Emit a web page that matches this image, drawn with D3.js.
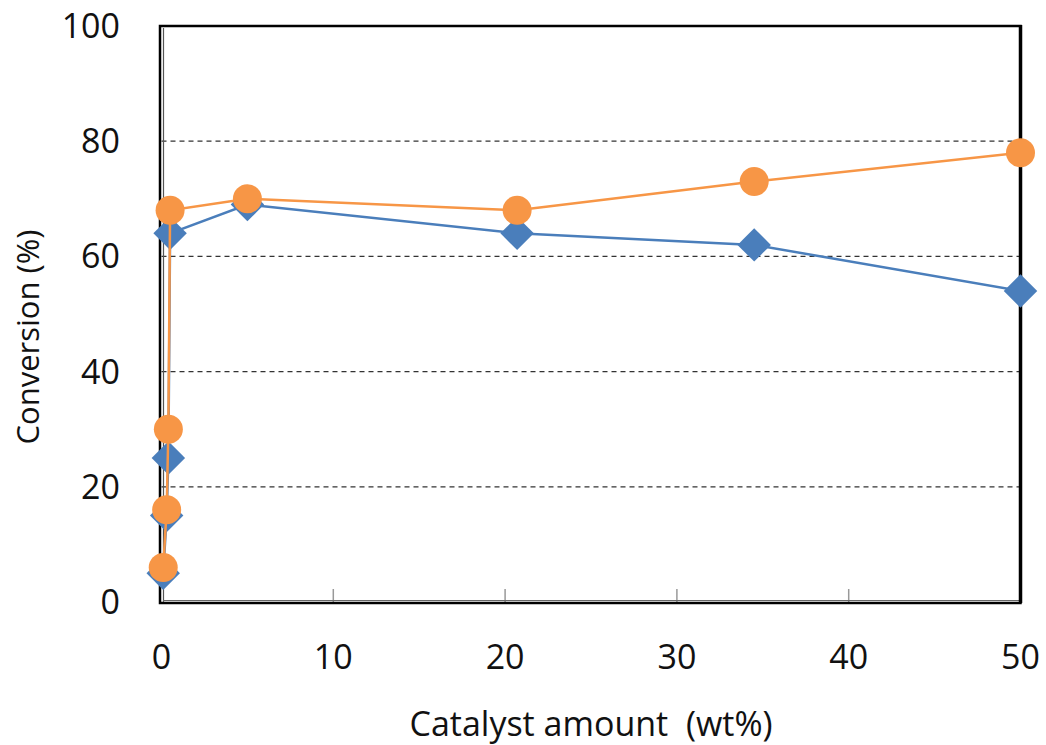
<!DOCTYPE html>
<html><head><meta charset="utf-8">
<script src="https://cdn.jsdelivr.net/npm/d3@7"></script>
<style>body{margin:0;background:#fff}svg{display:block}</style>
</head><body>
<svg id="c" width="1046" height="745"></svg>
<script>
const xValues = [0.1, 0.3, 0.4, 0.5, 5, 20.7, 34.5, 50];
const blueValues = [5, 15, 25, 64, 69, 64, 62, 54];
const orangeValues = [6, 16, 30, 68, 70, 68, 73, 78];
const xTicks = [0, 10, 20, 30, 40, 50];
const yTicks = [0, 20, 40, 60, 80, 100];
const xTitle = "Catalyst amount  (wt%)";
const yTitle = "Conversion (%)";

const svg = d3.select("#c");
const L = 161.5, R = 1020.5, T = 26, B = 602;
const x = d3.scaleLinear().domain([0, 50]).range([L, R]);
const y = d3.scaleLinear().domain([0, 100]).range([B, T]);
const font = "'Open Sans', 'Noto Sans', sans-serif";

// gridlines
svg.append("g").selectAll("line").data(yTicks.filter(d => d > 0 && d < 100)).join("line")
  .attr("x1", L).attr("x2", R).attr("y1", d => y(d)).attr("y2", d => y(d))
  .attr("stroke", "#333").attr("stroke-width", 1.2).attr("stroke-dasharray", "5,4");

// x ticks inward
svg.append("g").selectAll("line").data(xTicks.filter(d => d > 0 && d < 50)).join("line")
  .attr("x1", d => x(d)).attr("x2", d => x(d)).attr("y1", B).attr("y2", B - 13)
  .attr("stroke", "#999").attr("stroke-width", 1.5);

// frame
svg.append("rect").attr("x", 160).attr("y", T).attr("width", R - 160).attr("height", B - T + 1)
  .attr("fill", "none").attr("stroke", "#000").attr("stroke-width", 2.5);
svg.append("line").attr("x1", 163.5).attr("x2", 163.5).attr("y1", T + 2).attr("y2", B)
  .attr("stroke", "#555").attr("stroke-width", 1.2);
svg.append("line").attr("x1", 163).attr("x2", R).attr("y1", B - 1.5).attr("y2", B - 1.5)
  .attr("stroke", "#666").attr("stroke-width", 1.2);
svg.append("line").attr("x1", R).attr("x2", R).attr("y1", T - 1).attr("y2", B + 1)
  .attr("stroke", "#000").attr("stroke-width", 3.5);

// tick labels
svg.append("g").selectAll("text").data(yTicks).join("text")
  .attr("x", 120).attr("y", d => y(d)).attr("dy", "0.35em")
  .attr("text-anchor", "end").attr("font-family", font).attr("font-size", 34).attr("fill", "#111")
  .text(d => d);
svg.append("g").selectAll("text").data(xTicks).join("text")
  .attr("x", d => x(d)).attr("y", 657).attr("dy", "0.35em")
  .attr("text-anchor", "middle").attr("font-family", font).attr("font-size", 34).attr("fill", "#111")
  .text(d => d);

// titles
svg.append("text").attr("x", (L + R) / 2).attr("y", 724).attr("dy", "0.35em")
  .attr("text-anchor", "middle").attr("font-family", font).attr("font-size", 34).attr("fill", "#111")
  .attr("xml:space", "preserve").style("white-space", "pre").text(xTitle);
svg.append("text").attr("transform", "translate(28,337) rotate(-90)").attr("dy", "0.35em")
  .attr("text-anchor", "middle").attr("font-family", font).attr("font-size", 31).attr("fill", "#111")
  .text(yTitle);

const blue = xValues.map((d, i) => [d, blueValues[i]]);
const orange = xValues.map((d, i) => [d, orangeValues[i]]);
const line = d3.line().x(d => x(d[0])).y(d => y(d[1]));

svg.append("path").datum(blue).attr("d", line).attr("fill", "none")
  .attr("stroke", "#4a7ebb").attr("stroke-width", 2.5);
svg.append("g").selectAll("path").data(blue).join("path")
  .attr("d", d3.symbol().type(d3.symbolSquare).size(560))
  .attr("transform", d => `translate(${x(d[0])},${y(d[1])}) rotate(45)`)
  .attr("fill", "#4a7ebb");

svg.append("path").datum(orange).attr("d", line).attr("fill", "none")
  .attr("stroke", "#f79646").attr("stroke-width", 2.5);
svg.append("g").selectAll("circle").data(orange).join("circle")
  .attr("cx", d => x(d[0])).attr("cy", d => y(d[1])).attr("r", 14.5)
  .attr("fill", "#f79646");
</script>
</body></html>
